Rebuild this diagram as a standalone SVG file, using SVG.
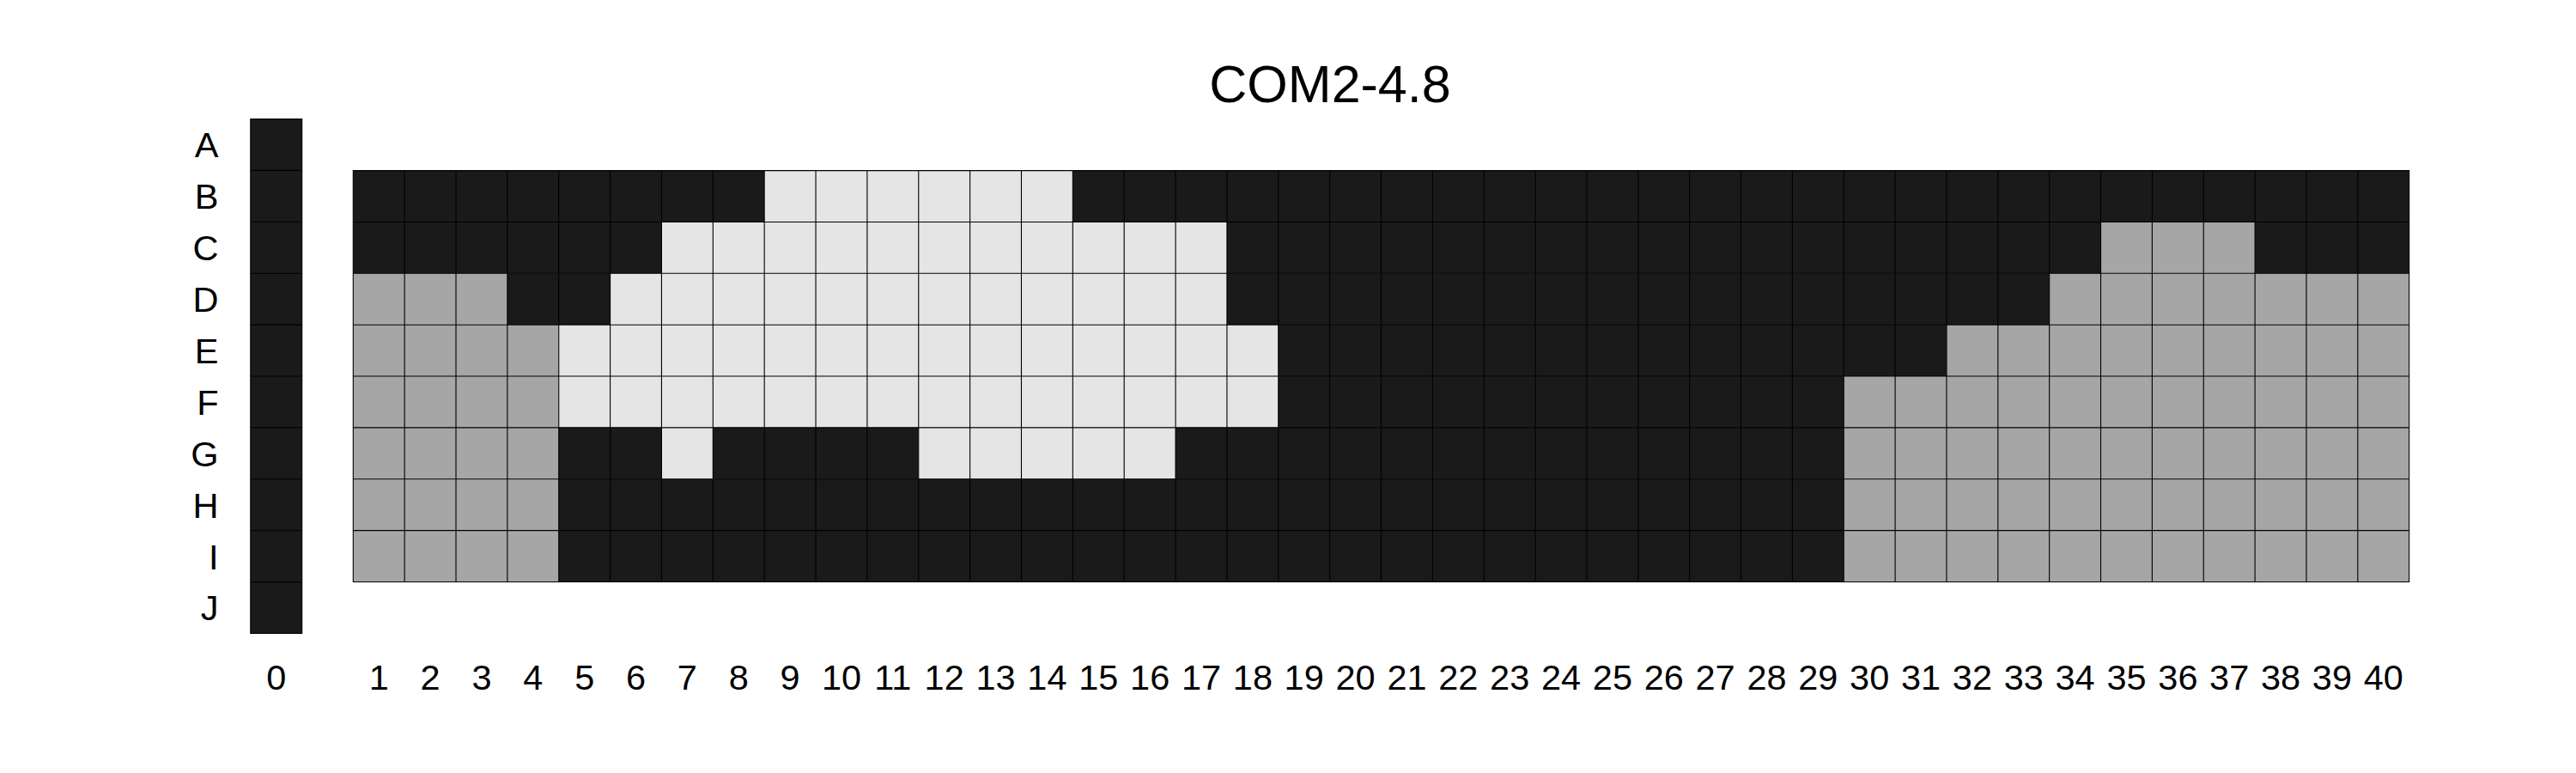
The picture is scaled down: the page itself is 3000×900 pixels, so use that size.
<svg xmlns="http://www.w3.org/2000/svg" width="3000" height="900" viewBox="0 0 3000 900">
<style>
.d{fill:#1a1a1a}
.l{fill:#e5e5e5}
.g{fill:#a6a6a6}
.ln{fill:none;stroke:#000;stroke-width:1.1;vector-effect:non-scaling-stroke}
.t{font-family:"Liberation Sans",Arial,sans-serif;fill:#000}
.row{font-size:41.5px;text-anchor:end}
.col{font-size:41.5px;text-anchor:middle}
</style>
<rect width="3000" height="900" fill="#fff"/>
<text class="t" x="1549" y="119" font-size="61" text-anchor="middle">COM2-4.8</text>

<g id="col0" transform="translate(291.8,138.5) scale(59.9)">
<rect class="d" x="0" y="0" width="1" height="10"/>
<path class="ln" d="M0 1H1M0 2H1M0 3H1M0 4H1M0 5H1M0 6H1M0 7H1M0 8H1M0 9H1"/>
<rect class="ln" x="0" y="0" width="1" height="10"/>
</g>

<g id="grid" transform="translate(411.3,198.6) scale(59.86)">
<g id="rowB">
<rect class="d" x="0" y="0" width="8" height="1"/>
<rect class="l" x="8" y="0" width="6" height="1"/>
<rect class="d" x="14" y="0" width="26" height="1"/>
</g>
<g id="rowC">
<rect class="d" x="0" y="1" width="6" height="1"/>
<rect class="l" x="6" y="1" width="11" height="1"/>
<rect class="d" x="17" y="1" width="17" height="1"/>
<rect class="g" x="34" y="1" width="3" height="1"/>
<rect class="d" x="37" y="1" width="3" height="1"/>
</g>
<g id="rowD">
<rect class="g" x="0" y="2" width="3" height="1"/>
<rect class="d" x="3" y="2" width="2" height="1"/>
<rect class="l" x="5" y="2" width="12" height="1"/>
<rect class="d" x="17" y="2" width="16" height="1"/>
<rect class="g" x="33" y="2" width="7" height="1"/>
</g>
<g id="rowE">
<rect class="g" x="0" y="3" width="4" height="1"/>
<rect class="l" x="4" y="3" width="14" height="1"/>
<rect class="d" x="18" y="3" width="13" height="1"/>
<rect class="g" x="31" y="3" width="9" height="1"/>
</g>
<g id="rowF">
<rect class="g" x="0" y="4" width="4" height="1"/>
<rect class="l" x="4" y="4" width="14" height="1"/>
<rect class="d" x="18" y="4" width="11" height="1"/>
<rect class="g" x="29" y="4" width="11" height="1"/>
</g>
<g id="rowG">
<rect class="g" x="0" y="5" width="4" height="1"/>
<rect class="d" x="4" y="5" width="2" height="1"/>
<rect class="l" x="6" y="5" width="1" height="1"/>
<rect class="d" x="7" y="5" width="4" height="1"/>
<rect class="l" x="11" y="5" width="5" height="1"/>
<rect class="d" x="16" y="5" width="13" height="1"/>
<rect class="g" x="29" y="5" width="11" height="1"/>
</g>
<g id="rowH">
<rect class="g" x="0" y="6" width="4" height="1"/>
<rect class="d" x="4" y="6" width="25" height="1"/>
<rect class="g" x="29" y="6" width="11" height="1"/>
</g>
<g id="rowI">
<rect class="g" x="0" y="7" width="4" height="1"/>
<rect class="d" x="4" y="7" width="25" height="1"/>
<rect class="g" x="29" y="7" width="11" height="1"/>
</g>
<path class="ln" d="M1 0V8M2 0V8M3 0V8M4 0V8M5 0V8M6 0V8M7 0V8M8 0V8M9 0V8M10 0V8M11 0V8M12 0V8M13 0V8M14 0V8M15 0V8M16 0V8M17 0V8M18 0V8M19 0V8M20 0V8M21 0V8M22 0V8M23 0V8M24 0V8M25 0V8M26 0V8M27 0V8M28 0V8M29 0V8M30 0V8M31 0V8M32 0V8M33 0V8M34 0V8M35 0V8M36 0V8M37 0V8M38 0V8M39 0V8M0 1H40M0 2H40M0 3H40M0 4H40M0 5H40M0 6H40M0 7H40"/>
<rect class="ln" x="0" y="0" width="40" height="8"/>
</g>

<g id="rowLabels" class="t row">
<text x="254.5" y="183.3">A</text>
<text x="254.5" y="243.2">B</text>
<text x="254.5" y="303.1">C</text>
<text x="254.5" y="363.0">D</text>
<text x="254.5" y="422.9">E</text>
<text x="254.5" y="482.8">F</text>
<text x="254.5" y="542.7">G</text>
<text x="254.5" y="602.6">H</text>
<text x="254.5" y="662.5">I</text>
<text x="254.5" y="722.4">J</text>
</g>

<g id="colLabels" class="t col">
<text x="321.8" y="803.3">0</text>
<text x="441.2" y="803.3">1</text>
<text x="501.1" y="803.3">2</text>
<text x="561.0" y="803.3">3</text>
<text x="620.8" y="803.3">4</text>
<text x="680.7" y="803.3">5</text>
<text x="740.5" y="803.3">6</text>
<text x="800.4" y="803.3">7</text>
<text x="860.3" y="803.3">8</text>
<text x="920.1" y="803.3">9</text>
<text x="980.0" y="803.3">10</text>
<text x="1039.8" y="803.3">11</text>
<text x="1099.7" y="803.3">12</text>
<text x="1159.6" y="803.3">13</text>
<text x="1219.4" y="803.3">14</text>
<text x="1279.3" y="803.3">15</text>
<text x="1339.2" y="803.3">16</text>
<text x="1399.0" y="803.3">17</text>
<text x="1458.9" y="803.3">18</text>
<text x="1518.7" y="803.3">19</text>
<text x="1578.6" y="803.3">20</text>
<text x="1638.5" y="803.3">21</text>
<text x="1698.3" y="803.3">22</text>
<text x="1758.2" y="803.3">23</text>
<text x="1818.0" y="803.3">24</text>
<text x="1877.9" y="803.3">25</text>
<text x="1937.8" y="803.3">26</text>
<text x="1997.6" y="803.3">27</text>
<text x="2057.5" y="803.3">28</text>
<text x="2117.3" y="803.3">29</text>
<text x="2177.2" y="803.3">30</text>
<text x="2237.1" y="803.3">31</text>
<text x="2296.9" y="803.3">32</text>
<text x="2356.8" y="803.3">33</text>
<text x="2416.6" y="803.3">34</text>
<text x="2476.5" y="803.3">35</text>
<text x="2536.4" y="803.3">36</text>
<text x="2596.2" y="803.3">37</text>
<text x="2656.1" y="803.3">38</text>
<text x="2715.9" y="803.3">39</text>
<text x="2775.8" y="803.3">40</text>
</g>
</svg>
